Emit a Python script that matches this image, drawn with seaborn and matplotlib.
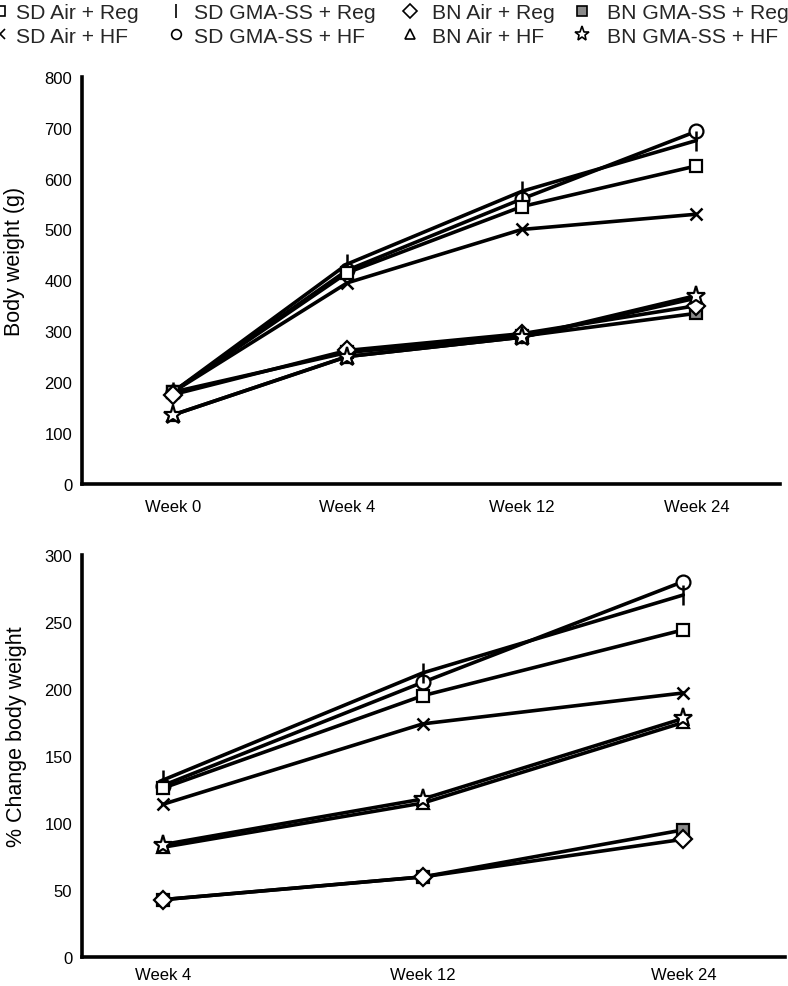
import matplotlib
matplotlib.use("Agg")
import matplotlib.pyplot as plt
from matplotlib.lines import Line2D
import seaborn as sns
import pandas as pd

sns.set_theme(style="white")
plt.rcParams['font.family'] = ['Liberation Sans', 'DejaVu Sans']

# ---- data ----
groups = ["SD Air + Reg", "SD Air + HF", "SD GMA-SS + Reg", "SD GMA-SS + HF",
          "BN Air + Reg", "BN Air + HF", "BN GMA-SS + Reg", "BN GMA-SS + HF"]

weeks_bw = ["Week 0", "Week 4", "Week 12", "Week 24"]
bw_sd_air_reg = [180, 415, 545, 625]
bw_sd_air_hf = [180, 395, 500, 530]
bw_sd_gma_reg = [180, 432, 575, 675]
bw_sd_gma_hf = [180, 420, 560, 693]
bw_bn_air_reg = [175, 262, 295, 350]
bw_bn_air_hf = [135, 250, 288, 365]
bw_bn_gma_reg = [180, 258, 290, 335]
bw_bn_gma_hf = [135, 250, 288, 370]

weeks_pc = ["Week 4", "Week 12", "Week 24"]
pc_sd_air_reg = [126, 195, 244]
pc_sd_air_hf = [114, 174, 197]
pc_sd_gma_reg = [132, 212, 270]
pc_sd_gma_hf = [128, 205, 280]
pc_bn_air_reg = [43, 60, 88]
pc_bn_air_hf = [82, 115, 175]
pc_bn_gma_reg = [43, 60, 95]
pc_bn_gma_hf = [84, 118, 178]

bw_values = [bw_sd_air_reg, bw_sd_air_hf, bw_sd_gma_reg, bw_sd_gma_hf,
             bw_bn_air_reg, bw_bn_air_hf, bw_bn_gma_reg, bw_bn_gma_hf]
pc_values = [pc_sd_air_reg, pc_sd_air_hf, pc_sd_gma_reg, pc_sd_gma_hf,
             pc_bn_air_reg, pc_bn_air_hf, pc_bn_gma_reg, pc_bn_gma_hf]

# ---- styles ----
markers = {"SD Air + Reg": "s", "SD Air + HF": "x", "SD GMA-SS + Reg": "|",
           "SD GMA-SS + HF": "o", "BN Air + Reg": "D", "BN Air + HF": "^",
           "BN GMA-SS + Reg": "s", "BN GMA-SS + HF": "*"}
msizes = {"s": 9, "x": 9, "|": 14, "o": 10, "D": 9, "^": 9, "*": 14}
faces = {g: "white" for g in groups}
faces["BN GMA-SS + Reg"] = "#8a8a8a"
# draw order (bottom first)
order = ["SD GMA-SS + HF", "SD Air + HF", "SD GMA-SS + Reg", "SD Air + Reg",
         "BN GMA-SS + Reg", "BN Air + HF", "BN Air + Reg", "BN GMA-SS + HF"]

fig = plt.figure(figsize=(7.88, 9.87), dpi=100)
ax1 = fig.add_axes([0.104, 0.509, 0.886, 0.412])
ax2 = fig.add_axes([0.104, 0.029, 0.892, 0.408])


def draw(ax, weeks, values):
    rows = []
    for g, vals in zip(groups, values):
        for w, v in zip(weeks, vals):
            rows.append({"week": w, "value": v, "group": g})
    df = pd.DataFrame(rows)
    for g in order:
        m = markers[g]
        sub = df[df.group == g]
        kw = dict(marker=m, markersize=msizes[m], markeredgecolor="black",
                  markeredgewidth=1.8 if m in "x|" else 1.6,
                  markerfacecolor=faces[g])
        sns.lineplot(data=sub, x="week", y="value", ax=ax, color="black",
                     linewidth=2.6, sort=False, legend=False, **kw)
    for s in ["top", "right"]:
        ax.spines[s].set_visible(False)
    for s in ["left", "bottom"]:
        ax.spines[s].set_color("black")
        ax.spines[s].set_linewidth(2.6)
    ax.tick_params(axis="both", length=0, labelsize=12, colors="black")
    ax.tick_params(axis="y", pad=7)
    ax.set_xlabel("")
    ax.grid(False)


draw(ax1, weeks_bw, bw_values)
ax1.set_ylim(0, 800)
ax1.set_yticks(range(0, 801, 100))
ax1.set_xlim(-0.52, 3.48)
ax1.set_ylabel("Body weight (g)", fontsize=15.5, color="black")
ax1.yaxis.set_label_coords(-0.082, 0.55)
ax1.tick_params(axis="x", pad=11)

draw(ax2, weeks_pc, pc_values)
ax2.set_ylim(0, 300)
ax2.set_yticks(range(0, 301, 50))
ax2.set_xlim(-0.31, 2.39)
ax2.set_ylabel("% Change body weight", fontsize=15.5, color="black")
ax2.yaxis.set_label_coords(-0.078, 0.55)
ax2.tick_params(axis="x", pad=7)

lsize = {"s": 7, "x": 7, "|": 10, "o": 7, "D": 7, "^": 7, "*": 11}
handles = {}
for g in groups:
    m = markers[g]
    handles[g] = Line2D([], [], linestyle="none", marker=m, markersize=lsize[m],
                        markerfacecolor=faces[g], markeredgecolor="black",
                        markeredgewidth=1.2, label=g)

# one legend per column, two rows each
columns = [(["SD Air + Reg", "SD Air + HF"], -6, 0.45),
           (["SD GMA-SS + Reg", "SD GMA-SS + HF"], 170, 0.55),
           (["BN Air + Reg", "BN Air + HF"], 404, 0.75),
           (["BN GMA-SS + Reg", "BN GMA-SS + HF"], 576, 0.85)]
for labs, xpx, pad in columns:
    fig.legend(handles=[handles[l] for l in labs], labels=labs, ncol=1,
               loc="upper left", bbox_to_anchor=(xpx / 788, 1 - 4 / 987),
               frameon=False, fontsize=15.2, handlelength=0.6,
               handletextpad=pad, labelspacing=0.22, borderaxespad=0,
               borderpad=0)

fig.savefig("out.png", dpi=100)
